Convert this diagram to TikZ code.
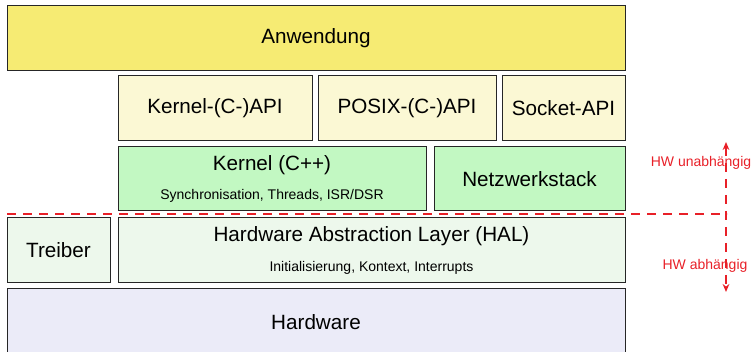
\documentclass[tikz,border=0pt]{standalone}
\usepackage{fontspec}
\setmainfont{Liberation Sans}
\usetikzlibrary{positioning, arrows.meta, calc}
\usepackage{xcolor}

\definecolor{appyellow}{RGB}{246,235,115}
\definecolor{apiyellow}{RGB}{251,248,212}
\definecolor{kernelgreen}{RGB}{194,248,194}
\definecolor{halgreen}{RGB}{237,248,236}
\definecolor{hwblue}{RGB}{235,235,248}
\definecolor{hwred}{RGB}{232,32,40}

\begin{document}
\begin{tikzpicture}[
    x=0.75pt, y=-0.75pt,
    layer/.style={rectangle, draw=black!85, line width=0.75pt, inner sep=0pt, align=center,
        font=\fontsize{15.5}{18}\selectfont},
    sub/.style={font=\fontsize{10.5}{12}\selectfont},
    hwline/.style={draw=hwred, line width=1.5pt, dash pattern=on 6.75pt off 5.25pt},
    hwlabel/.style={text=hwred, font=\fontsize{10.5}{12}\selectfont, inner sep=1pt}
]
    \useasboundingbox (0,0) rectangle (753,352);

    \node[layer, fill=appyellow, minimum width=618*0.75pt, minimum height=65*0.75pt] (app) at (316,38.5) {Anwendung};
    \node[layer, fill=apiyellow, minimum width=194*0.75pt, minimum height=65*0.75pt] (kapi) at (215,108.5) {Kernel-(C-)API};
    \node[layer, fill=apiyellow, minimum width=178*0.75pt, minimum height=65*0.75pt] (posix) at (407,108.5) {POSIX-(C-)API};
    \node[layer, fill=apiyellow, minimum width=123*0.75pt, minimum height=65*0.75pt] (socket) at (563.5,108.5) {Socket-API};
    \node[layer, fill=kernelgreen, minimum width=308*0.75pt, minimum height=64*0.75pt] (kernel) at (272,179)
        {Kernel (C++)\\[3.75pt]{\fontsize{10.5}{12}\selectfont Synchronisation, Threads, ISR/DSR}};
    \node[layer, fill=kernelgreen, minimum width=191*0.75pt, minimum height=64*0.75pt] (netz) at (529.5,179) {Netzwerkstack};
    \node[layer, fill=halgreen, minimum width=103*0.75pt, minimum height=65*0.75pt] (treiber) at (58.5,250.5) {Treiber};
    \node[layer, fill=halgreen, minimum width=507*0.75pt, minimum height=65*0.75pt] (hal) at (371.5,250.5)
        {Hardware Abstraction Layer (HAL)\\[4.5pt]{\fontsize{10.5}{12}\selectfont Initialisierung, Kontext, Interrupts}};
    \node[layer, fill=hwblue, minimum width=618*0.75pt, minimum height=66*0.75pt] (hw) at (316,322) {Hardware};

    % Grenze HW-unabhaengig / HW-abhaengig
    \coordinate (sepL) at (7,214);
    \coordinate (sepR) at (727,214);
    \coordinate (hwTop) at (726,142);
    \coordinate (hwBot) at (726,292);
    \draw[hwline] (sepL) -- (sepR);
    \draw[hwline, {Stealth[length=6pt,width=5pt]}-{Stealth[length=6pt,width=5pt]}] (hwTop) -- (hwBot);
    \node[hwlabel] (indep) at (701,163) {HW unabhängig};
    \node[hwlabel] (dep) at (705,266) {HW abhängig};
\end{tikzpicture}
\end{document}
